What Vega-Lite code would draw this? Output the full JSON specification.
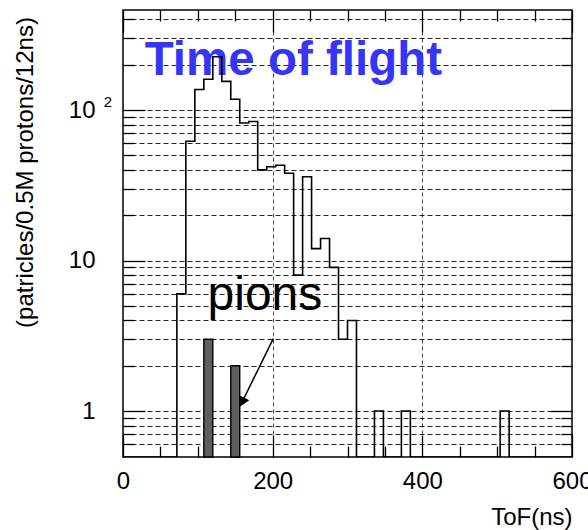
{
  "$schema": "https://vega.github.io/schema/vega-lite/v6.json",
  "width": 449,
  "height": 447,
  "autosize": "none",
  "padding": {"left": 123, "top": 10, "right": 16, "bottom": 73},
  "background": "white",
  "config": {
    "view": {"stroke": "#000", "strokeWidth": 1.5},
    "font": "Liberation Sans",
    "axis": {
      "domain": false,
      "labelFont": "Liberation Sans", "labelFontSize": 24, "labelColor": "#000",
      "titleFont": "Liberation Sans", "titleFontSize": 24, "titleFontWeight": "normal", "titleColor": "#000",
      "tickColor": "#000", "tickWidth": 1.3,
      "gridColor": "#000", "gridWidth": 1, "gridOpacity": 0.85,
      "labelOverlap": false, "labelFlush": false, "labelBound": false, "zindex": 1
    }
  },
  "datasets": {
    "hist": [
      {"t": 0, "n": 0.495}, {"t": 72, "n": 6}, {"t": 84, "n": 62}, {"t": 96, "n": 137},
      {"t": 108, "n": 160}, {"t": 120, "n": 226}, {"t": 132, "n": 155}, {"t": 144, "n": 118},
      {"t": 156, "n": 82}, {"t": 168, "n": 84}, {"t": 180, "n": 40}, {"t": 192, "n": 42},
      {"t": 204, "n": 43}, {"t": 216, "n": 38}, {"t": 228, "n": 8}, {"t": 240, "n": 36},
      {"t": 252, "n": 12}, {"t": 264, "n": 14}, {"t": 276, "n": 9}, {"t": 288, "n": 3},
      {"t": 300, "n": 4}, {"t": 312, "n": 0.495}, {"t": 336, "n": 1}, {"t": 348, "n": 0.495},
      {"t": 372, "n": 1}, {"t": 384, "n": 0.495}, {"t": 504, "n": 1}, {"t": 516, "n": 0.495},
      {"t": 600, "n": 0.495}
    ],
    "pions": [
      {"t0": 108, "t1": 120, "n": 3},
      {"t0": 144, "t1": 156, "n": 2}
    ],
    "one": [{}]
  },
  "resolve": {"axis": {"x": "independent", "y": "independent"}},
  "layer": [
    {
      "data": {"name": "one"},
      "mark": {"type": "text", "text": "Time of flight", "font": "Liberation Sans", "fontWeight": "bold", "fontSize": 47.5, "color": "#3535f5", "align": "left", "baseline": "alphabetic"},
      "encoding": {
        "x": {"datum": 29, "type": "quantitative", "axis": null},
        "y": {"datum": 171, "type": "quantitative", "axis": null}
      }
    },
    {
      "data": {"name": "one"},
      "mark": {"type": "text", "text": "pions", "font": "Liberation Sans", "fontSize": 48, "color": "#000", "align": "left", "baseline": "alphabetic"},
      "encoding": {
        "x": {"datum": 113, "type": "quantitative", "axis": null},
        "y": {"datum": 4.7, "type": "quantitative", "axis": null}
      }
    },
    {
      "data": {"name": "hist"},
      "mark": {"type": "line", "interpolate": "step-after", "color": "#000", "strokeWidth": 1.6, "clip": true},
      "encoding": {
        "x": {
          "field": "t", "type": "quantitative",
          "scale": {"domain": [0, 600], "nice": false, "zero": false},
          "axis": {
            "orient": "bottom",
            "values": [0, 50, 100, 150, 200, 250, 300, 350, 400, 450, 500, 550, 600],
            "tickSize": {"condition": {"test": "datum.value % 200 === 0", "value": -22}, "value": -11},
            "labelExpr": "datum.value % 200 === 0 ? datum.label : ''",
            "labelPadding": 34,
            "grid": true, "gridDash": [4, 3],
            "gridOpacity": {"condition": {"test": "datum.value === 200 || datum.value === 400", "value": 0.85}, "value": 0},
            "title": "ToF(ns)", "titleX": 449, "titleY": 60, "titleAlign": "right", "titleBaseline": "middle"
          }
        },
        "y": {
          "field": "n", "type": "quantitative",
          "scale": {"type": "log", "domain": [0.495, 462], "nice": false},
          "axis": {
            "orient": "left",
            "values": [0.6, 0.7, 0.8, 0.9, 1, 2, 3, 4, 5, 6, 7, 8, 9, 10, 20, 30, 40, 50, 60, 70, 80, 90, 100, 200, 300, 400],
            "tickSize": {"condition": {"test": "datum.value === 1 || datum.value === 10 || datum.value === 100", "value": -22}, "value": -11},
            "labelExpr": "datum.value === 1 ? '1' : (datum.value === 10 || datum.value === 100) ? '10' : ''",
            "labelPadding": 50,
            "grid": true, "gridDash": [5, 3],
            "title": "(patricles/0.5M protons/12ns)", "titleAngle": -90, "titleX": -98, "titleY": 162, "titleAlign": "center", "titleBaseline": "middle"
          }
        }
      }
    },
    {
      "data": {"name": "pions"},
      "mark": {"type": "bar", "fill": "#5e5e5e", "stroke": "#000", "strokeWidth": 1.4},
      "encoding": {
        "x": {
          "field": "t0", "type": "quantitative",
          "axis": {
            "orient": "top",
            "values": [0, 50, 100, 150, 200, 250, 300, 350, 400, 450, 500, 550, 600],
            "tickSize": {"condition": {"test": "datum.value % 200 === 0", "value": -22}, "value": -11},
            "labels": false, "grid": false, "title": null
          }
        },
        "x2": {"field": "t1"},
        "y": {
          "field": "n", "type": "quantitative",
          "axis": {
            "orient": "right",
            "values": [0.6, 0.7, 0.8, 0.9, 1, 2, 3, 4, 5, 6, 7, 8, 9, 10, 20, 30, 40, 50, 60, 70, 80, 90, 100, 200, 300, 400],
            "tickSize": {"condition": {"test": "datum.value === 1 || datum.value === 10 || datum.value === 100", "value": -22}, "value": -11},
            "labels": false, "grid": false, "title": null
          }
        },
        "y2": {"datum": 0.495}
      }
    },
    {
      "data": {"name": "one"},
      "mark": {"type": "rule", "color": "#000", "strokeWidth": 1.5},
      "encoding": {
        "x": {"datum": 201, "type": "quantitative", "axis": null},
        "y": {"datum": 3.04, "type": "quantitative", "axis": null},
        "x2": {"datum": 160},
        "y2": {"datum": 1.17}
      }
    },
    {
      "data": {"name": "one"},
      "mark": {"type": "point", "shape": "triangle", "filled": true, "color": "#000", "size": 130, "angle": 206, "opacity": 1},
      "encoding": {
        "x": {"datum": 160, "type": "quantitative", "axis": null},
        "y": {"datum": 1.17, "type": "quantitative", "axis": null}
      }
    },
    {
      "data": {"name": "one"},
      "mark": {"type": "text", "text": "2", "font": "Liberation Sans", "fontSize": 15, "color": "#000", "align": "center", "baseline": "middle", "clip": false},
      "encoding": {
        "x": {"datum": -20, "type": "quantitative", "axis": null},
        "y": {"datum": 113, "type": "quantitative", "axis": null}
      }
    }
  ]
}
